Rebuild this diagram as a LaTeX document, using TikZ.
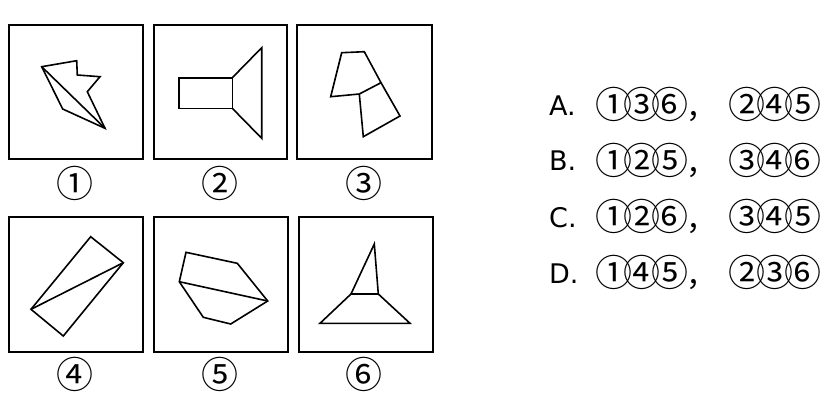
\documentclass[tikz,border=0pt]{standalone}
\usepackage{fontspec}
\newfontfamily\cjk{Noto Sans CJK SC}
\newfontfamily\dvs{DejaVu Sans}
\newcommand\cdg[1]{\makebox[28pt]{#1}}
\newcommand\cmm{\makebox[49.3pt][l]{\hspace{3pt}\fontsize{30}{30}\selectfont ，}}
\begin{document}
\begin{tikzpicture}[x=1pt,y=-1pt,
  panel/.style={draw=black,line width=1.8pt},
  shp/.style={draw=black,line width=1.6pt,line join=miter},
  num/.style={font=\cjk\fontsize{37}{37}\selectfont,inner sep=0pt},
  opt/.style={font=\dvs\fontsize{27}{27}\selectfont,inner sep=0pt,anchor=west},
  ans/.style={font=\cjk\fontsize{37}{37}\selectfont,inner sep=0pt,anchor=west}]
\useasboundingbox[fill=white] (0,0) rectangle (826,408);
% panels
\draw[panel] (9,25) rectangle (143,159);
\draw[panel] (154,25) rectangle (287,159);
\draw[panel] (297,25) rectangle (432,159);
\draw[panel] (9,217) rectangle (143,352);
\draw[panel] (154,217) rectangle (288,352);
\draw[panel] (299,217) rectangle (433,352);
% shape 1
\draw[shp] (41.7,66.7) -- (76.7,60.7) -- (77.3,75) -- (100,76.7) -- (87.3,91.7) -- (105,128.3) -- (62.7,109) -- cycle;
\draw[shp] (41.7,66.7) -- (105,128.3);
% shape 2
\draw[shp] (179,77.7) rectangle (232.3,108.3);
\draw[shp] (232.3,77.7) -- (261.7,47.7) -- (261.7,138.3) -- (232.3,108.3);
% shape 3
\draw[shp] (341.7,52.7) -- (364.3,51.7) -- (381,82.7) -- (359.3,94) -- (330.7,96.7) -- cycle;
\draw[shp] (359.3,94) -- (363.3,136.7) -- (400,116) -- (381,82.7);
% shape 4
\draw[shp] (90.7,236.7) -- (123.3,262.7) -- (63.3,336) -- (31,309.3) -- cycle;
\draw[shp] (31,309.3) -- (123.3,262.7);
% shape 5
\draw[shp] (186,252.3) -- (237.3,263.3) -- (267.7,301) -- (230.7,324) -- (203.3,317.3) -- (179.3,281.7) -- cycle;
\draw[shp] (179.3,281.7) -- (267.7,301);
% shape 6
\draw[shp] (374.3,244) -- (378.3,294) -- (351,294) -- cycle;
\draw[shp] (351,294) -- (320,323.3) -- (410,323.3) -- (378.3,294);
% labels
\node[num] (l1) at (75,183.3) {①};
\node[num] (l2) at (220,183.3) {②};
\node[num] (l3) at (364,183.3) {③};
\node[num] (l4) at (75,374) {④};
\node[num] (l5) at (220,374) {⑤};
\node[num] (l6) at (364,374) {⑥};
% options
\node[opt] (oa) at (549,105.5) {A.};
\node[opt] (ob) at (549,161) {B.};
\node[opt] (oc) at (549,217.5) {C.};
\node[opt] (od) at (549,273.3) {D.};
\node[ans] (aa) at (599.5,104.5) {\cdg{①}\cdg{③}\cdg{⑥}\cmm\cdg{②}\cdg{④}\cdg{⑤}};
\node[ans] (ab) at (599.5,160.2) {\cdg{①}\cdg{②}\cdg{⑤}\cmm\cdg{③}\cdg{④}\cdg{⑥}};
\node[ans] (ac) at (599.5,216.5) {\cdg{①}\cdg{②}\cdg{⑥}\cmm\cdg{③}\cdg{④}\cdg{⑤}};
\node[ans] (ad) at (599.5,272.5) {\cdg{①}\cdg{④}\cdg{⑤}\cmm\cdg{②}\cdg{③}\cdg{⑥}};
\end{tikzpicture}
\end{document}
